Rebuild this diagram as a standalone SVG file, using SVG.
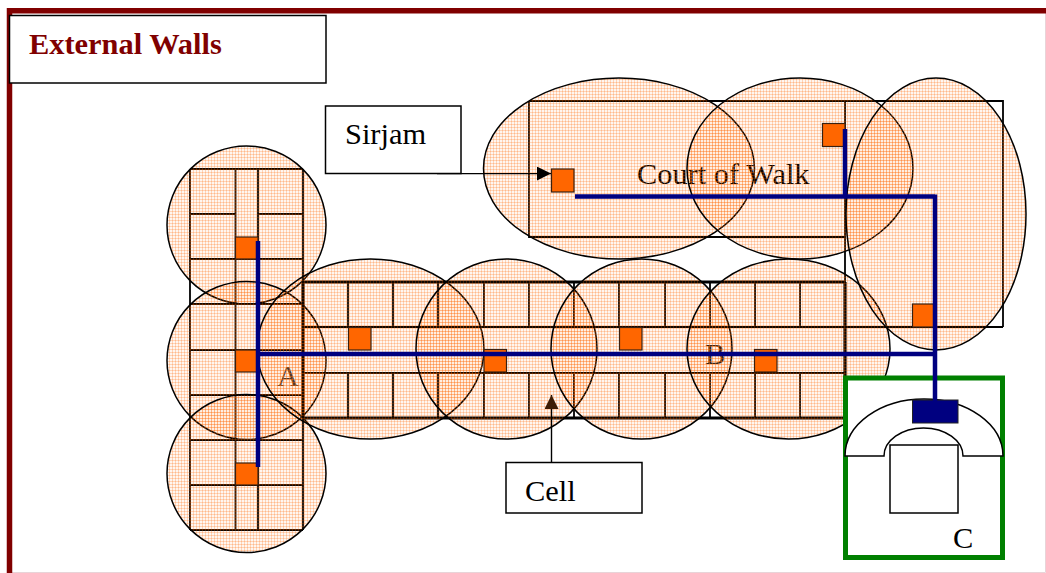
<svg xmlns="http://www.w3.org/2000/svg" width="1046" height="573" viewBox="0 0 1046 573">
<style>
text{font-family:"Liberation Serif","Times New Roman",serif;font-size:30.4px;fill:#000}
.title{font-weight:700;fill:#800000}
.box{fill:#fff;stroke:#000;stroke-width:1.5}
.wall{fill:none;stroke:#000;stroke-width:1.8}
.thick{fill:none;stroke:#000;stroke-width:3.2}
.zone{fill:url(#dots);stroke:#000;stroke-width:1.5}
.sq{fill:#f60;stroke:#3a2010;stroke-width:1.2}
.pipe{fill:none;stroke:#000080;stroke-width:4.5}
.lead{fill:none;stroke:#000;stroke-width:1.4}
</style>
<defs>
<pattern id="dots" width="3" height="3" patternUnits="userSpaceOnUse">
<rect width="3" height="3" fill="#ff6600" fill-opacity=".06"/>
<rect y="1" width="3" height="1" fill="#ff6600" fill-opacity=".24"/>
<rect x="1" width="1" height="3" fill="#ff6600" fill-opacity=".24"/>
</pattern>
<marker id="head" markerUnits="userSpaceOnUse" markerWidth="15" markerHeight="15" refX="14" refY="7" orient="auto"><path d="M0 0L14 7L0 14Z" fill="#000"/></marker>
<marker id="headCell" markerUnits="userSpaceOnUse" markerWidth="15" markerHeight="15" refX="14" refY="7" orient="auto"><path d="M0 0L14 7L0 14Z" fill="#3d1d05"/></marker>
</defs>
<rect width="1046" height="573" fill="#fff"/>
<path d="M1045.5 13V572.5H12" fill="none" stroke="#e8d4d8" stroke-width="1"/>
<path id="frame" d="M9.5 573V10.8H1046" fill="none" stroke="#800000" stroke-width="5.5"/>

<g id="plan-walls">
<path class="wall" d="M190 169H303M190 214H235.5M258 214H303M190 259H303M190 304H303M190 350H303M190 395H303M190 440H303M190 485H303M190 530H303M190 169V530M235.5 169V530M258 169V530M303 169V530"/>
<path class="thick" d="M303 282H845M303 418H845M303 282V418M845 282V418"/>
<path class="wall" d="M303 327H1003M303 373H845M348 282V327M393 282V327M438 282V327M484 282V327M529 282V327M574 282V327M619 282V327M665 282V327M710 282V327M755 282V327M800 282V327M348 373V418M393 373V418M438 373V418M484 373V418M529 373V418M574 373V418M619 373V418M665 373V418M710 373V418M755 373V418M800 373V418"/>
<path class="wall" d="M529 101H1003V327M529 101V237H845M845 101V282"/>
</g>

<text id="label-a" x="277" y="386" fill-opacity=".8">A</text>
<text id="label-b" x="705" y="364" fill-opacity=".9">B</text>
<text id="label-court" x="637" y="184">Court of Walk</text>

<g id="zones">
<ellipse class="zone" cx="246.5" cy="225" rx="79.5" ry="79"/>
<ellipse class="zone" cx="246.5" cy="360.5" rx="79.5" ry="79"/>
<ellipse class="zone" cx="246.5" cy="473.5" rx="79.5" ry="79"/>
<ellipse class="zone" cx="370.5" cy="349" rx="113.5" ry="90"/>
<ellipse class="zone" cx="506.5" cy="349" rx="90.5" ry="90"/>
<ellipse class="zone" cx="641.5" cy="349" rx="90.5" ry="90"/>
<ellipse class="zone" cx="788.5" cy="349" rx="101.5" ry="90"/>
<ellipse class="zone" cx="619" cy="168.5" rx="135.5" ry="90.5"/>
<ellipse class="zone" cx="800" cy="168.5" rx="113" ry="90.5"/>
<ellipse class="zone" cx="936" cy="214" rx="90" ry="136"/>
</g>

<g id="towers">
<rect class="sq" x="235.5" y="237" width="22.5" height="22"/>
<rect class="sq" x="235.5" y="350" width="22.5" height="22"/>
<rect class="sq" x="235.5" y="463" width="22.5" height="22"/>
<rect class="sq" x="348.5" y="327.5" width="22.5" height="22.5"/>
<rect class="sq" x="484" y="349.5" width="22.5" height="22.5"/>
<rect class="sq" x="619.5" y="327.5" width="22.5" height="22.5"/>
<rect class="sq" x="754.5" y="349.5" width="22.5" height="22.5"/>
<rect class="sq" x="912.5" y="304" width="22.5" height="23"/>
<rect class="sq" x="822.5" y="123.5" width="22.5" height="23"/>
<rect class="sq" x="551.5" y="169" width="22.5" height="23"/>
</g>

<g id="node-title"><rect class="box" x="9.5" y="15.5" width="316.5" height="67.5"/><text class="title" x="29" y="54">External Walls</text></g>
<g id="node-sirjam"><rect class="box" x="325.5" y="106" width="135.5" height="67.5"/><text x="345" y="144">Sirjam</text></g>
<g id="node-cell"><rect class="box" x="506" y="462.5" width="136" height="50.5"/><text x="525" y="501">Cell</text></g>
<g id="node-c">
<rect x="845.5" y="378" width="157" height="179.5" fill="#fff" stroke="#008000" stroke-width="5"/>
<path d="M845 456A79 57 0 0 1 1003 456H963A39.5 28 0 0 0 884 456Z" fill="#fff" stroke="#000" stroke-width="1.5"/>
<rect x="890" y="445" width="68" height="68" fill="#fff" stroke="#000" stroke-width="1.5"/>
<rect x="912.5" y="400" width="45.5" height="23" fill="#000080" stroke="#222" stroke-width="1"/>
<text x="953" y="548">C</text>
</g>

<g id="connectors">
<path class="pipe" d="M258 241V467M258 354H935M575 196.5H935M935 194.5V402M845 129V196"/>
<path class="lead" d="M437 173.6H551" marker-end="url(#head)"/>
<path class="lead" d="M551.5 462V395" marker-end="url(#headCell)"/>
</g>
</svg>
